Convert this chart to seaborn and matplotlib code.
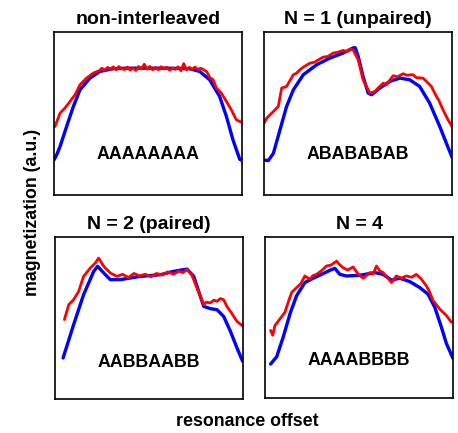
import matplotlib
matplotlib.use("Agg")
import matplotlib.pyplot as plt
import seaborn as sns

# panel titles and pulse-order labels
titles = ["non-interleaved", "N = 1 (unpaired)", "N = 2 (paired)", "N = 4"]
orders = ["AAAAAAAA", "ABABABAB", "AABBAABB", "AAAABBBB"]

# simulated (blue) and measured (red) profiles, x = offset (0-100), y = magnetization (0-100)
x1b = [0, 1.4, 3.2, 6.7, 10.3, 13.8, 19.1, 24.4, 31.5, 40, 50, 60, 72, 77.5, 82.8, 88.1, 91.7, 95.2, 98.8, 100]
y1b = [21.5, 24.6, 29.7, 42, 54.3, 64.5, 71.7, 75.8, 77.5, 77.8, 77.8, 77.8, 77.5, 75.8, 70.7, 60.5, 48.2, 33.8, 21.9, 21.1]
x1r = [0.5, 3.2, 5.8, 8.5, 11.2, 13.8, 17.3, 20.9,
       24, 25.5, 27, 28.5, 30, 31.5, 33, 34.5, 36, 37.5, 39, 40.5, 42, 43.5, 45, 46.5, 48, 49.5, 51, 52.5,
       54, 55.5, 57, 58.5, 60, 61.5, 63, 64.5, 66, 67.5, 69, 70.5, 72, 73.5, 75, 76.5, 78, 79.5,
       81.1, 83, 84.6, 86.4, 89, 91.7, 94.3, 97, 100]
y1r = [42, 50.2, 53.3, 57.4, 61.5, 67.6, 71.7, 74.8,
       76.2, 77.8, 76.5, 78.3, 77.2, 78.6, 76.8, 78.8, 77.5, 77, 78.5, 76.6, 77.9, 76.4, 78.8, 77.3, 80.2, 77.2, 78.9, 76.8,
       78.2, 76.9, 78.7, 77.4, 78.4, 76.6, 77.8, 77.1, 78.6, 76.2, 80.6, 76.8, 78.3, 77.2, 78.5, 77, 77.8, 76.9,
       75.8, 72, 70.7, 65.6, 62.5, 57.4, 52.3, 46.1, 44.5]

x2b = [0, 2.3, 5, 8.5, 12, 15.6, 20.9, 28, 35, 42.1, 47.4, 48.5, 50.1, 52.7, 55.4, 57.2, 61.6, 66.9, 72.2, 77.5, 82.8, 88.1, 93.5, 97, 100]
y2b = [21.5, 21.1, 25.6, 40, 54.3, 64.5, 73.8, 79.9, 84, 87.1, 90.2, 90.4, 85, 72.7, 62.5, 61.5, 65.6, 69.7, 71.7, 70.7, 66.6, 56.4, 42, 31.8, 23.2]
x2r = [0, 1.4, 4.1, 7.6, 9.4, 12, 15.6, 17, 19.1, 21, 24.4, 27, 29, 31.5, 34, 36.8, 39, 42.1, 44, 45.7, 47.4,
       50.1, 52.7, 56.3, 59, 61, 63.4, 65, 68.7, 71, 74, 76, 79.3, 81, 84.6, 87, 89, 91.7, 93, 95.2, 97.9, 100]
y2r = [44, 47.1, 50.2, 54.3, 65.6, 66.6, 73.8, 74.5, 76.8, 78.5, 80.9, 81.5, 83, 84.6, 85, 87.1, 87.5, 88.7, 88, 89.5, 89,
       83, 70.7, 62.5, 63.5, 66, 68.6, 67.5, 73.2, 72.5, 74.4, 73.5, 73.8, 72, 71.7, 69, 66.6, 60.5, 58, 52.3, 46.1, 42]

x3b = [4.3, 9.9, 15.2, 20.6, 22.7, 25.9, 29.4, 34.8, 45.4, 56, 63.1, 70.2, 73.8, 76.4, 79.1, 82.6, 86.2, 89.7, 93.3, 96.8, 99.8]
y3b = [25.3, 45.9, 64.4, 78.8, 81.9, 77.8, 73.7, 73.7, 75.7, 76.7, 78.8, 80.2, 75.7, 66.5, 57.2, 55.8, 55.1, 51, 41.8, 31.5, 23.3]
x3r = [5, 7.3, 9.9, 12.6, 15.2, 18.8, 21.5, 23.2, 25.9, 29.4, 33, 36, 39, 42, 45, 48, 51, 54, 57, 60, 63, 66, 68,
       70.2, 72.7, 75.5, 79.1, 80.5, 82.6, 84.5, 86.2, 88, 89.7, 91.5, 93.3, 96.8, 100]
y3r = [49, 58.2, 61.3, 66.5, 75.7, 80.9, 84, 87, 81.9, 77.8, 75.7, 77, 75, 77.5, 76, 77, 75.5, 77.5, 76.5, 78.5, 77, 79, 78,
       79.8, 76.7, 68.5, 58.2, 59.8, 59.3, 61, 60.3, 62, 61.3, 57, 54.1, 47.9, 44.9]

x4b = [3, 6.2, 9.7, 13.3, 16.8, 21.2, 25.7, 30.1, 34.5, 37.2, 39.8, 43.4, 50.4, 58.4, 62.8, 67.3, 71.7, 77, 82.3, 86.7, 90.3, 93.8, 96.5, 100]
y4b = [21.1, 25.6, 37.9, 52.3, 63.5, 71.7, 74.4, 76.8, 79.3, 80.5, 76.8, 75.8, 76.2, 77.9, 76.8, 73.2, 74.4, 72.3, 68.6, 64.5, 56.4, 44.1, 33.8, 24.6]
x4r = [3, 4.1, 5.3, 8, 10.6, 12.5, 14.2, 16.8, 19, 21.2, 23.9, 25.5, 27.4, 30, 32.7, 35, 38.1, 39.5, 41.6, 44, 46.9,
       49.5, 52.2, 55.8, 57.5, 59.3, 61, 62.8, 65, 67.3, 69.9, 72.5, 75.2, 78, 80.5, 83.2, 85.8, 87.5, 89.4, 92.9, 96.5, 99.1]
y4r = [42, 39, 45.1, 49.2, 53.3, 60, 65.6, 68.6, 71, 75.8, 73.8, 76, 76.8, 79, 82, 82.5, 85, 83, 80.9, 79.5, 81.4,
       77, 74.4, 77.9, 77, 82, 79, 77.9, 75, 71.7, 75.8, 74.5, 75.8, 75, 76.8, 73.8, 69.7, 66, 60.5, 55.3, 51.2, 47.1]

blue = [(x1b, y1b), (x2b, y2b), (x3b, y3b), (x4b, y4b)]
red = [(x1r, y1r), (x2r, y2r), (x3r, y3r), (x4r, y4r)]

sns.set_theme(style="white")
plt.rcParams["font.family"] = ["Liberation Sans", "DejaVu Sans"]
plt.rcParams["text.color"] = "black"

W, H = 458, 433
fig = plt.figure(figsize=(W / 100, H / 100), dpi=100)

# axes boxes in pixels: left, top, right, bottom
boxes = [(54, 32, 242, 195), (264, 32, 452, 195), (55, 237, 243, 399), (265, 237, 453, 398)]
label_y = [24.6, 24.6, 22.8, 23.2]

for i, (l, t, r, b) in enumerate(boxes):
    ax = fig.add_axes([l / W, 1 - b / H, (r - l) / W, (b - t) / H])
    bx, by = blue[i]
    rx, ry = red[i]
    sns.lineplot(x=bx, y=by, ax=ax, color="#0000ff", lw=2.4, sort=False, estimator=None)
    sns.lineplot(x=rx, y=ry, ax=ax, color="#ff0000", lw=2.0, sort=False, estimator=None)
    ax.set_xlim(0, 100)
    ax.set_ylim(0, 100)
    ax.set_xticks([])
    ax.set_yticks([])
    ax.set_xlabel("")
    ax.set_ylabel("")
    for s in ax.spines.values():
        s.set_visible(True)
        s.set_color("black")
        s.set_linewidth(1.2)
    ax.set_title(titles[i], fontsize=14, fontweight="bold", pad=6, color="black")
    ax.text(50, label_y[i], orders[i], ha="center", va="center", fontsize=12.8,
            fontweight="bold", color="black")

fig.text(247 / W, 1 - 422 / H, "resonance offset", ha="center", va="center",
         fontsize=12.8, fontweight="bold", color="black")
fig.text(33 / W, 1 - 212 / H, "magnetization (a.u.)", rotation=90, ha="center", va="center",
         fontsize=12.8, fontweight="bold", color="black")

fig.savefig("out.png", dpi=100)
